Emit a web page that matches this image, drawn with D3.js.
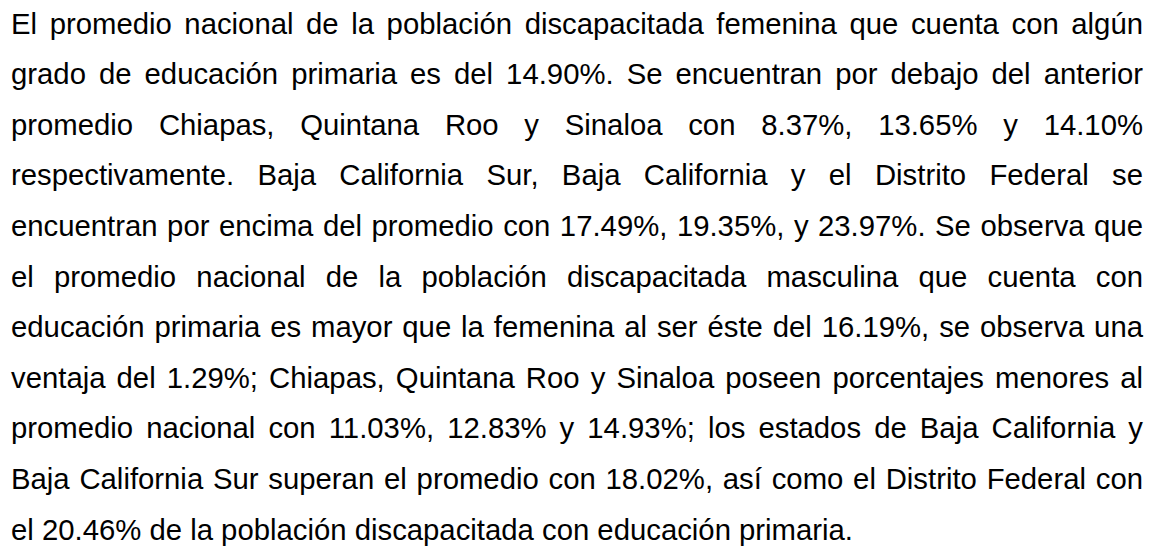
<!DOCTYPE html>
<html>
<head>
<meta charset="utf-8">
<script src="https://cdn.jsdelivr.net/npm/d3@7"></script>
<style>
    html, body { margin: 0; padding: 0; background: #fff; }
    svg { display: block; }
</style>
</head>
<body>
<svg id="chart"></svg>
<script>
// the paragraph, one entry per printed line
const lines = [
    'El promedio nacional de la población discapacitada femenina que cuenta con algún',
    'grado de educación primaria es del 14.90%. Se encuentran por debajo del anterior',
    'promedio Chiapas, Quintana Roo y Sinaloa con 8.37%, 13.65% y 14.10%',
    'respectivamente. Baja California Sur, Baja California y el Distrito Federal se',
    'encuentran por encima del promedio con 17.49%, 19.35%, y 23.97%. Se observa que',
    'el promedio nacional de la población discapacitada masculina que cuenta con',
    'educación primaria es mayor que la femenina al ser éste del 16.19%, se observa una',
    'ventaja del 1.29%; Chiapas, Quintana Roo y Sinaloa poseen porcentajes menores al',
    'promedio nacional con 11.03%, 12.83% y 14.93%; los estados de Baja California y',
    'Baja California Sur superan el promedio con 18.02%, así como el Distrito Federal con',
    'el 20.46% de la población discapacitada con educación primaria.'
]
// last line is left aligned, the rest justified
const justified = lines.map((d, i) => i < lines.length - 1)

const width = 1155
const height = 546
const left = 11
const right = 1143
const fontSize = 29.3

const svg = d3.select('#chart').attr('width', width).attr('height', height)

// baseline of every line
const y = d3.scaleLinear().domain([0, lines.length - 1]).range([33.5, 539.5])

const texts = svg.append('g')
    .selectAll('text')
    .data(lines)
    .join('text')
    .attr('x', left)
    .attr('y', (d, i) => y(i))
    .attr('font-family', '"Liberation Sans", Arial, sans-serif')
    .attr('font-size', fontSize)
    .attr('fill', '#000')
    .text(d => d)

// spread the spaces so justified lines reach the right margin
texts.each(function (d, i) {
    if (!justified[i]) return
    const natural = this.getComputedTextLength()
    const gaps = d.split(' ').length - 1
    const extra = (right - left - natural) / gaps
    d3.select(this).style('word-spacing', extra + 'px')
})
</script>
</body>
</html>
